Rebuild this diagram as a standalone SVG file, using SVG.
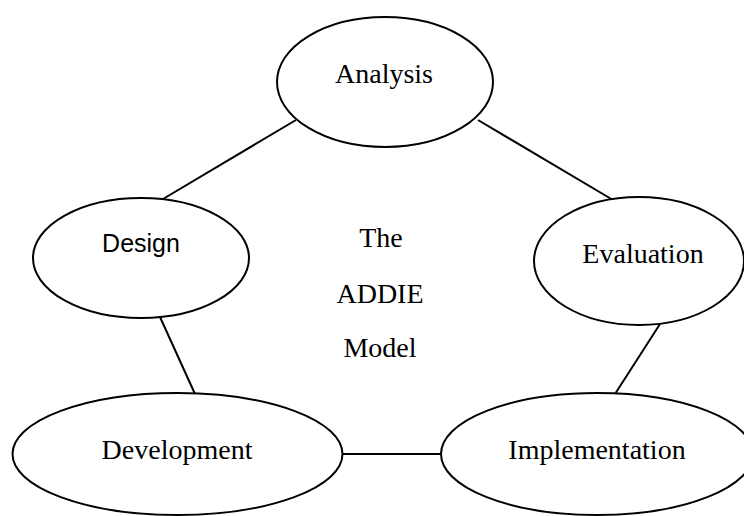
<svg xmlns="http://www.w3.org/2000/svg" width="744" height="516" viewBox="0 0 744 516">
<style>
.node ellipse{fill:#fff;stroke:#000;stroke-width:2}
.lbl{font-family:"Liberation Serif","Times New Roman",serif;font-size:28px;fill:#000;text-anchor:middle}
.sans{font-family:"Liberation Sans",Arial,sans-serif;font-size:25px;fill:#000;text-anchor:middle}
.edges line{stroke:#000;stroke-width:2}
</style>
<rect width="744" height="516" fill="#fff"/>
<g class="edges" id="connectors">
<line x1="296" y1="120" x2="163" y2="199"/>
<line x1="478" y1="120" x2="613" y2="200"/>
<line x1="160" y1="317" x2="195" y2="394"/>
<line x1="660" y1="324" x2="615" y2="394"/>
<line x1="342" y1="454" x2="441" y2="454"/>
</g>
<g class="node" id="analysis"><ellipse cx="385" cy="82" rx="108" ry="65"/><text class="lbl" x="384" y="83">Analysis</text></g>
<g class="node" id="design"><ellipse cx="141" cy="258" rx="108" ry="60"/><text class="sans" x="141" y="252">Design</text></g>
<g class="node" id="evaluation"><ellipse cx="639" cy="261" rx="105" ry="64"/><text class="lbl" x="643" y="263">Evaluation</text></g>
<g class="node" id="development"><ellipse cx="177.5" cy="454" rx="165" ry="61"/><text class="lbl" x="177" y="459">Development</text></g>
<g class="node" id="implementation"><ellipse cx="597" cy="454" rx="156" ry="61"/><text class="lbl" x="597" y="459">Implementation</text></g>
<g id="title"><text class="lbl" x="381" y="247">The</text><text class="lbl" x="380" y="303">ADDIE</text><text class="lbl" x="380" y="357">Model</text></g>
</svg>
